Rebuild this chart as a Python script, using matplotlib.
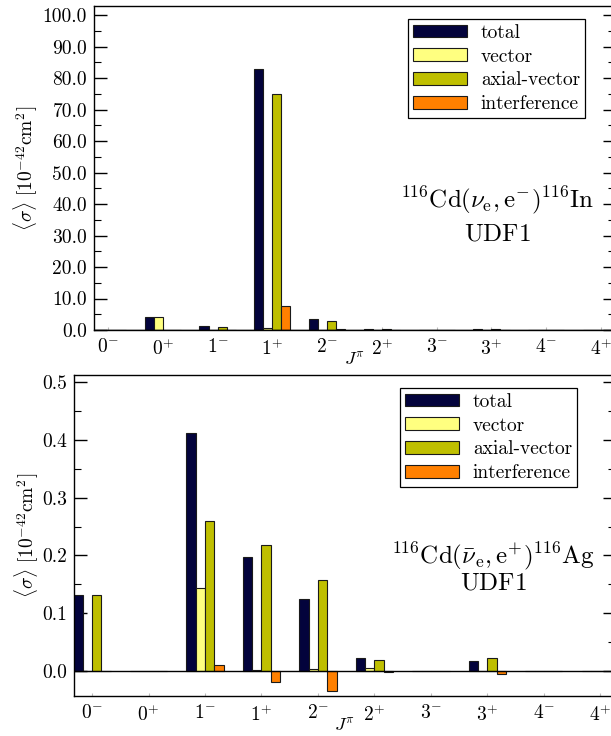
import matplotlib
matplotlib.use("Agg")
import matplotlib.pyplot as plt
import numpy as np
from matplotlib.ticker import MultipleLocator, FormatStrFormatter

plt.rcParams['font.family'] = 'serif'
plt.rcParams['font.serif'] = ['cmr10', 'DejaVu Serif']
plt.rcParams['mathtext.fontset'] = 'cm'
plt.rcParams['axes.unicode_minus'] = False

categories = [r'$0^{-}$', r'$0^{+}$', r'$1^{-}$', r'$1^{+}$', r'$2^{-}$',
              r'$2^{+}$', r'$3^{-}$', r'$3^{+}$', r'$4^{-}$', r'$4^{+}$']
series_names = ['total', 'vector', 'axial-vector', 'interference']
colors = ['#03033c', '#ffff80', '#bfbf00', '#ff8000']

# 116Cd(nu_e, e-)116In  [10^-42 cm^2]
nu_total = [0.10, 4.0, 1.25, 82.9, 3.5, 0.30, 0.10, 0.20, 0.05, 0.05]
nu_vector = [0.02, 4.0, 0.10, 0.50, 0.10, 0.10, 0.05, 0.05, 0.02, 0.02]
nu_axial = [0.08, 0.0, 0.90, 74.8, 2.9, 0.20, 0.05, 0.20, 0.03, 0.03]
nu_interf = [0.0, 0.0, 0.15, 7.6, 0.4, 0.0, 0.0, 0.0, 0.0, 0.0]

# 116Cd(anti-nu_e, e+)116Ag  [10^-42 cm^2]
anu_total = [0.131, 0.001, 0.412, 0.198, 0.125, 0.022, 0.001, 0.017, 0.001, 0.0005]
anu_vector = [0.0, 0.001, 0.143, 0.002, 0.003, 0.005, 0.001, 0.0005, 0.001, 0.0]
anu_axial = [0.131, 0.0005, 0.2595, 0.2175, 0.157, 0.0185, 0.0005, 0.022, 0.0005, 0.0005]
anu_interf = [0.0, 0.0, 0.0098, -0.019, -0.0346, -0.001, 0.0, -0.005, 0.0, 0.0]

top_series = [nu_total, nu_vector, nu_axial, nu_interf]
bot_series = [anu_total, anu_vector, anu_axial, anu_interf]

W, H = 611, 736
fig = plt.figure(figsize=(W / 100, H / 100), dpi=100)

def axes_px(left, right, top, bottom):
    return fig.add_axes([left / W, 1 - bottom / H, (right - left) / W, (bottom - top) / H])

ax1 = axes_px(94, 615, 6, 330)
ax2 = axes_px(74, 615, 375, 696)

bw = 0.165
offsets = [-2 * bw, -bw, 0.0, bw]
x = np.arange(len(categories))

def draw(ax, series, xlim, ylim, major, minor, fmt, title_lines, title_x, title_y, leg_bbox, ylpad):
    for vals, off, col, name in zip(series, offsets, colors, series_names):
        ax.bar(x + off, vals, width=bw, align='edge', color=col,
               edgecolor='#1a1a1a', linewidth=0.8, label=name, zorder=2)
    ax.axhline(0, color='black', lw=1.0, zorder=3)
    ax.set_xlim(*xlim)
    ax.set_ylim(*ylim)
    ax.set_xticks(x)
    ax.set_xticklabels(categories, fontsize=14)
    ax.tick_params(axis='x', direction='in', length=2, color='#bbbbbb', pad=6,
                   top=False)
    ax.yaxis.set_major_locator(MultipleLocator(major))
    ax.yaxis.set_minor_locator(MultipleLocator(minor))
    ax.yaxis.set_major_formatter(FormatStrFormatter(fmt))
    ax.tick_params(axis='y', which='major', direction='in', length=9, width=1.0,
                   right=True, labelsize=14, pad=5)
    ax.tick_params(axis='y', which='minor', direction='in', length=5, width=0.8,
                   right=True)
    for sp in ax.spines.values():
        sp.set_linewidth(1.0)
    ax.set_xlabel(r'$J^{\pi}$', fontsize=13, labelpad=-5)
    ax.set_ylabel(r'$\langle\sigma\rangle\ [10^{-42}\mathrm{cm}^{2}]$', fontsize=14,
                  labelpad=ylpad)
    leg = ax.legend(loc='upper left', bbox_to_anchor=leg_bbox, fontsize=14,
                    fancybox=False, framealpha=1, edgecolor='black',
                    handlelength=2.8, handleheight=0.62, handletextpad=0.7,
                    borderpad=0.25, labelspacing=0.3, borderaxespad=0.0)
    leg.get_frame().set_linewidth(0.9)
    for t, yy in zip(title_lines, title_y):
        ax.text(title_x, yy, t, transform=None, fontsize=18, ha='center', va='center')

draw(ax1, top_series, (-0.256, 9.256), (0, 102.9), 10, 5, '%.1f',
     [r'$^{116}\mathrm{Cd}(\nu_\mathrm{e},\mathrm{e}^{-})^{116}\mathrm{In}$', r'$\mathrm{UDF1}$'],
     497, [H - 200, H - 234], ((408 - 94) / 521, (330 - 19) / 324), 2)
draw(ax2, bot_series, (-0.32, 9.26), (-0.043, 0.512), 0.1, 0.05, '%.1f',
     [r'$^{116}\mathrm{Cd}(\bar{\nu}_\mathrm{e},\mathrm{e}^{+})^{116}\mathrm{Ag}$', r'$\mathrm{UDF1}$'],
     493, [H - 556, H - 583], ((400 - 74) / 541, (696 - 388) / 321), 1)

fig.savefig('out.png', dpi=100)
